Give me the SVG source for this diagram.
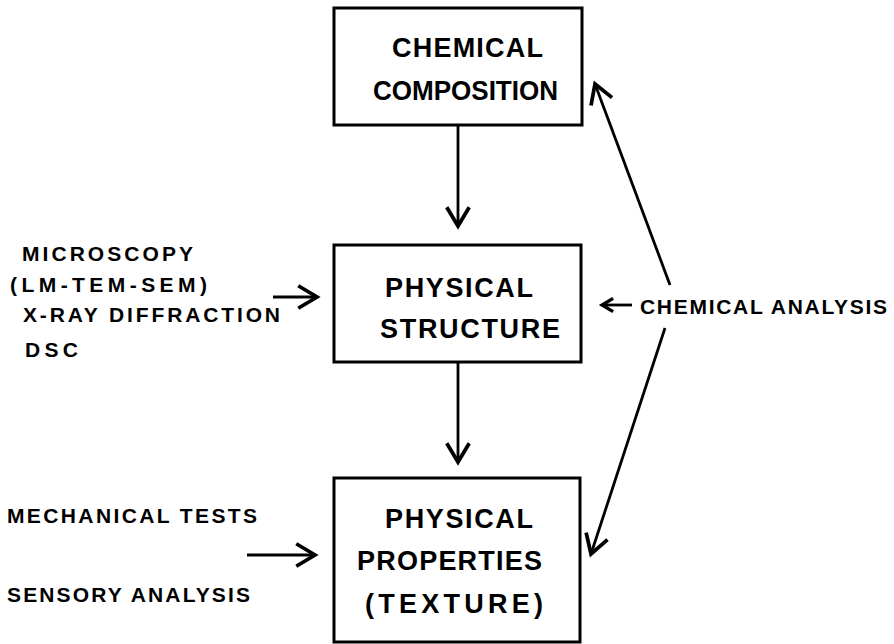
<svg xmlns="http://www.w3.org/2000/svg" width="894" height="644" viewBox="0 0 894 644">
<style>
.box{fill:#fff;stroke:#000;stroke-width:3}
.bt{font-family:"Liberation Sans",Arial,sans-serif;font-weight:bold;font-size:27px;fill:#000}
.lt{font-family:"Liberation Sans",Arial,sans-serif;font-weight:bold;font-size:21px;fill:#000}
.c{fill:none;stroke:#000;stroke-width:2.8}
</style>
<defs>
<marker id="ah" markerUnits="userSpaceOnUse" markerWidth="30" markerHeight="30" refX="0" refY="0" viewBox="-18 -12 20 24" orient="auto">
<path d="M-15,-9 L0,0 L-15,9" fill="none" stroke="#000" stroke-width="3"/>
</marker>
<marker id="ahs" markerUnits="userSpaceOnUse" markerWidth="20" markerHeight="20" refX="0" refY="0" viewBox="-13 -9 15 18" orient="auto">
<path d="M-10,-6 L0,0 L-10,6" fill="none" stroke="#000" stroke-width="3"/>
</marker>
</defs>
<g id="chemical-composition">
<rect class="box" x="334" y="8" width="248" height="117"/>
<text class="bt" x="392" y="57" textLength="151" lengthAdjust="spacing">CHEMICAL</text>
<text class="bt" x="373" y="100" textLength="185" lengthAdjust="spacingAndGlyphs">COMPOSITION</text>
</g>
<g id="physical-structure">
<rect class="box" x="334" y="245" width="247" height="117"/>
<text class="bt" x="385" y="297" textLength="148" lengthAdjust="spacing">PHYSICAL</text>
<text class="bt" x="380" y="338" textLength="180" lengthAdjust="spacing">STRUCTURE</text>
</g>
<g id="physical-properties">
<rect class="box" x="334" y="478" width="246" height="164"/>
<text class="bt" x="385" y="528" textLength="148" lengthAdjust="spacing">PHYSICAL</text>
<text class="bt" x="357" y="570" textLength="185" lengthAdjust="spacing">PROPERTIES</text>
<text class="bt" x="365" y="613" textLength="178" lengthAdjust="spacing">(TEXTURE)</text>
</g>
<g id="structure-methods">
<text class="lt" x="22" y="261" textLength="171" lengthAdjust="spacing">MICROSCOPY</text>
<text class="lt" x="10" y="292" textLength="197" lengthAdjust="spacing">(LM-TEM-SEM)</text>
<text class="lt" x="23" y="322" textLength="257" lengthAdjust="spacing">X-RAY DIFFRACTION</text>
<text class="lt" x="25" y="357" textLength="53" lengthAdjust="spacing">DSC</text>
</g>
<g id="property-methods">
<text class="lt" x="7" y="523" textLength="250" lengthAdjust="spacing">MECHANICAL TESTS</text>
<text class="lt" x="7" y="602" textLength="243" lengthAdjust="spacing">SENSORY ANALYSIS</text>
</g>
<g id="chemical-analysis">
<text class="lt" x="640" y="314" textLength="247" lengthAdjust="spacing">CHEMICAL ANALYSIS</text>
</g>
<g id="connectors">
<line class="c" x1="458" y1="125" x2="458" y2="226" marker-end="url(#ah)"/>
<line class="c" x1="458" y1="362" x2="458" y2="462" marker-end="url(#ah)"/>
<line class="c" x1="273" y1="297" x2="317" y2="297" marker-end="url(#ah)"/>
<line class="c" x1="247" y1="555" x2="315" y2="555" marker-end="url(#ah)"/>
<line class="c" x1="632" y1="305" x2="602" y2="305" marker-end="url(#ahs)"/>
<line class="c" x1="670" y1="285" x2="595" y2="84" marker-end="url(#ah)"/>
<line class="c" x1="665" y1="328" x2="591" y2="554" marker-end="url(#ah)"/>
</g>
</svg>
